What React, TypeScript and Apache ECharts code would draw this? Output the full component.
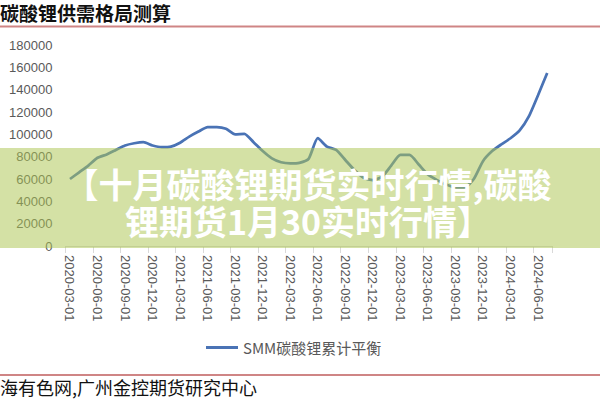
import React, { useEffect, useRef } from "react";
import * as echarts from "echarts";

const titleText = "碳酸锂供需格局测算";
const sourceText = "海有色网,广州金控期货研究中心";
const bannerLines = ["【十月碳酸锂期货实时行情,碳酸", "锂期货1月30实时行情】"];
const seriesName = "SMM碳酸锂累计平衡";

const categories = [
  "2020-03-01", "2020-04-01", "2020-05-01", "2020-06-01", "2020-07-01", "2020-08-01",
  "2020-09-01", "2020-10-01", "2020-11-01", "2020-12-01", "2021-01-01", "2021-02-01",
  "2021-03-01", "2021-04-01", "2021-05-01", "2021-06-01", "2021-07-01", "2021-08-01",
  "2021-09-01", "2021-10-01", "2021-11-01", "2021-12-01", "2022-01-01", "2022-02-01",
  "2022-03-01", "2022-04-01", "2022-05-01", "2022-06-01", "2022-07-01", "2022-08-01",
  "2022-09-01", "2022-10-01", "2022-11-01", "2022-12-01", "2023-01-01", "2023-02-01",
  "2023-03-01", "2023-04-01", "2023-05-01", "2023-06-01", "2023-07-01", "2023-08-01",
  "2023-09-01", "2023-10-01", "2023-11-01", "2023-12-01", "2024-01-01", "2024-02-01",
  "2024-03-01", "2024-04-01", "2024-05-01", "2024-06-01", "2024-07-01",
];

const balanceValues = [
  60000, 66000, 72000, 79000, 82000, 86000,
  90000, 92000, 93000, 90000, 88500, 89000,
  92500, 98000, 102500, 106500, 106500, 105000,
  100000, 100500, 93000, 85000, 78500, 75000,
  74000, 74500, 78000, 96500, 89000, 86000,
  77000, 68000, 61000, 59000, 62000, 72000,
  81500, 81500, 73000, 64000, 59000, 55000,
  52500, 52500, 60000, 76000, 85000, 91000,
  96500, 103500, 116000, 135000, 155000,
];

const yMin = 0;
const yMax = 180000;
const yInterval = 20000;

export default function App() {
  const ref = useRef<HTMLDivElement>(null);

  useEffect(() => {
    if (!ref.current) return;
    const chart = echarts.init(ref.current, undefined, { renderer: "svg" });
    const gray = "#595959";
    const red = "#cf8585";
    chart.setOption({
      animation: false,
      backgroundColor: "#ffffff",
      grid: { left: 65.4, right: 48.2, top: 45, bottom: 154, containLabel: false },
      legend: {
        data: [seriesName],
        left: 201,
        top: 335,
        icon: "rect",
        itemWidth: 32,
        itemHeight: 3,
        textStyle: { fontSize: 15, color: gray, fontFamily: "Noto Sans CJK SC" },
      },
      xAxis: {
        type: "category",
        data: categories,
        boundaryGap: true,
        axisLine: { show: true, lineStyle: { color: "#d9d9d9", width: 1 } },
        axisTick: { show: true, interval: 2, length: 7, lineStyle: { color: "#d9d9d9" } },
        axisLabel: {
          interval: 2,
          rotate: -90,
          margin: 9,
          color: gray,
          fontSize: 13,
          fontFamily: "Liberation Sans",
        },
        splitLine: { show: false },
      },
      yAxis: {
        type: "value",
        min: yMin,
        max: yMax,
        interval: yInterval,
        axisLine: { show: false },
        axisTick: { show: false },
        splitLine: { show: false },
        axisLabel: {
          margin: 13,
          color: gray,
          fontSize: 13,
          fontFamily: "Liberation Sans",
          formatter: (v: number) => String(v),
        },
      },
      series: [
        {
          name: seriesName,
          type: "line",
          data: balanceValues,
          symbol: "none",
          smooth: 0.2,
          lineStyle: { width: 2.75, color: "#4a73b5" },
          itemStyle: { color: "#4a73b5" },
        },
      ],
      graphic: [
        {
          type: "text",
          x: 0,
          y: 12,
          z: 50,
          style: {
            text: titleText,
            fill: "#111111",
            font: "bold 19px 'Noto Sans CJK SC'",
            align: "left",
            verticalAlign: "middle",
            textAlign: "left",
            textVerticalAlign: "middle",
          },
        },
        {
          type: "rect",
          z: 50,
          shape: { x: 0, y: 25.5, width: 600, height: 2 },
          style: { fill: red },
        },
        {
          type: "rect",
          z: 50,
          shape: { x: 0, y: 374, width: 600, height: 2 },
          style: { fill: red },
        },
        {
          type: "text",
          x: 0,
          y: 387,
          z: 50,
          style: {
            text: sourceText,
            fill: "#111111",
            font: "18px 'Noto Sans CJK SC'",
            lineHeight: 20,
            align: "left",
            verticalAlign: "middle",
            textAlign: "left",
            textVerticalAlign: "middle",
          },
        },
        {
          type: "rect",
          z: 100,
          shape: { x: 0, y: 148, width: 600, height: 100 },
          style: { fill: "rgba(172,198,82,0.52)" },
        },
        {
          type: "text",
          x: 308,
          y: 202,
          z: 101,
          style: {
            text: bannerLines.join("\n"),
            fill: "#ffffff",
            font: "bold 34px 'Noto Sans CJK SC'",
            lineHeight: 37,
            align: "center",
            verticalAlign: "middle",
            textAlign: "center",
            textVerticalAlign: "middle",
          },
        },
      ],
    });
    return () => chart.dispose();
  }, []);

  return (
    <div
      ref={ref}
      style={{ position: "fixed", left: 0, top: 0, width: 600, height: 400, background: "#fff" }}
    />
  );
}
